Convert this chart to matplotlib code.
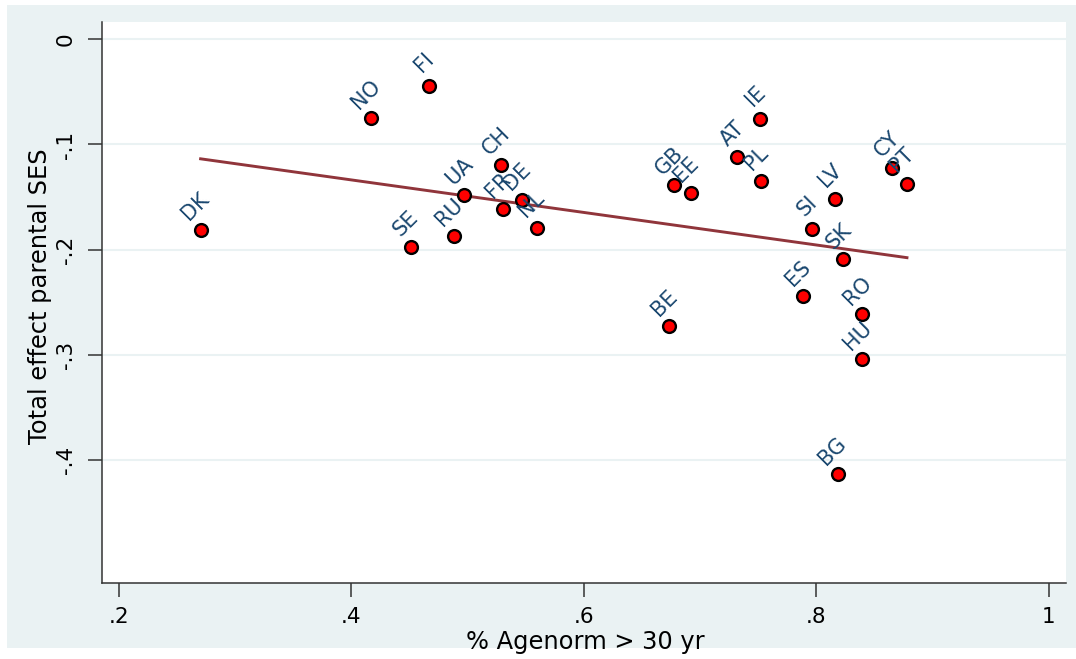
import numpy as np
import matplotlib
matplotlib.use('Agg')
import matplotlib.pyplot as plt
from matplotlib.patches import Rectangle

# Country scores: share with age norm above 30 vs. total effect of parental SES
countries = ['DK', 'NO', 'FI', 'SE', 'RU', 'UA', 'CH', 'FR', 'DE', 'NL',
             'BE', 'GB', 'EE', 'AT', 'IE', 'PL', 'ES', 'SI', 'LV', 'BG',
             'SK', 'RO', 'HU', 'CY', 'PT']
agenorm = [0.2705, 0.4170, 0.4672, 0.4512, 0.4884, 0.4970, 0.5291, 0.5306, 0.5467, 0.5596,
           0.6734, 0.6779, 0.6926, 0.7321, 0.7519, 0.7525, 0.7889, 0.7964, 0.8162, 0.8185,
           0.8235, 0.8397, 0.8397, 0.8655, 0.8781]
ses_effect = [-0.1813, -0.0748, -0.0444, -0.1971, -0.1870, -0.1480, -0.1192, -0.1610, -0.1528, -0.1791,
              -0.2725, -0.1382, -0.1458, -0.1119, -0.0758, -0.1350, -0.2443, -0.1803, -0.1518, -0.4135,
              -0.2091, -0.2611, -0.3042, -0.1221, -0.1371]

xticks = [0.2, 0.4, 0.6, 0.8, 1.0]
xtick_labels = ['.2', '.4', '.6', '.8', '1']
yticks = [0.0, -0.1, -0.2, -0.3, -0.4]
ytick_labels = ['0', '-.1', '-.2', '-.3', '-.4']

plt.rcParams['font.family'] = ['DejaVu Sans']
plt.rcParams['axes.unicode_minus'] = False

bg = '#eaf2f3'
label_col = '#1a476f'
fit_col = '#90353b'

fig = plt.figure(figsize=(10.76, 6.59), dpi=100, facecolor='white')
# graph region background
fig.patches.append(Rectangle((7 / 1076, 11 / 659), 1 - 7 / 1076, (654 - 11) / 659,
                             transform=fig.transFigure, facecolor=bg,
                             edgecolor='none', zorder=-1))
ax = fig.add_axes([0.0945, 0.1149, 0.8962, 0.8517])
ax.set_facecolor('white')

# linear fit over the observed range
x = np.array(agenorm)
y = np.array(ses_effect)
slope, intercept = np.polyfit(x, y, 1)
xfit = np.array([x.min(), x.max()])
ax.plot(xfit, intercept + slope * xfit, color=fit_col, lw=2.1, zorder=2)

ax.scatter(x, y, s=85, facecolor='#ff0000', edgecolor='black', linewidth=1.7, zorder=3)

for code, xi, yi in zip(countries, agenorm, ses_effect):
    ax.annotate(code, (xi, yi), xytext=(-3.6, 16.8), textcoords='offset points',
                rotation=45, rotation_mode='anchor', ha='center', va='center',
                fontsize=15, color=label_col, zorder=4, annotation_clip=False)

ax.set_xlim(0.1854, 1.0149)
ax.set_ylim(-0.5171, 0.0164)

ax.set_xticks(xticks, labels=xtick_labels, fontsize=15.5)
ax.set_yticks(yticks, labels=ytick_labels, fontsize=15.5, rotation=90, va='center')
ax.tick_params(axis='x', length=10, width=1.1, color='#333333', pad=7)
ax.tick_params(axis='y', length=10, width=1.1, color='#333333', pad=8.5)

ax.yaxis.grid(True, color=bg, lw=1.5, zorder=0)
ax.set_axisbelow(True)

for side in ['top', 'right']:
    ax.spines[side].set_visible(False)
for side in ['left', 'bottom']:
    ax.spines[side].set_color('#333333')
    ax.spines[side].set_linewidth(1.1)

ax.set_xlabel('% Agenorm > 30 yr', fontsize=17.4)
ax.xaxis.label.set_va('baseline')
ax.xaxis.set_label_coords(0.5012, -0.1165)
ax.set_ylabel('Total effect parental SES', fontsize=17.4)
ax.yaxis.set_label_coords(-0.0515, 0.511)

fig.savefig('out.png', dpi=100, facecolor='white')
